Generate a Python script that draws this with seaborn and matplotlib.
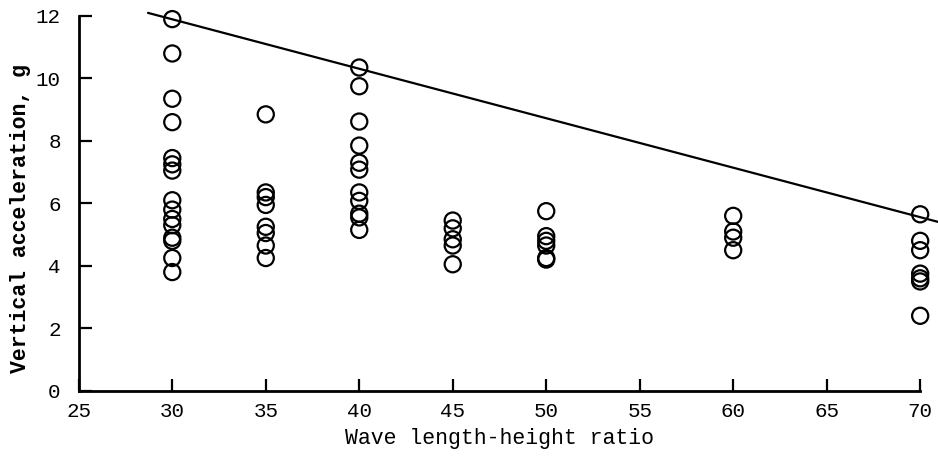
import matplotlib
matplotlib.use("Agg")
import matplotlib.pyplot as plt
import seaborn as sns
import pandas as pd

ratio_30 = [11.9, 10.8, 9.35, 8.6, 7.45, 7.25, 7.05, 6.1, 5.8, 5.5, 5.3, 4.9, 4.8, 4.25, 3.8]
ratio_35 = [8.85, 6.35, 6.2, 5.95, 5.25, 5.05, 4.65, 4.25]
ratio_40 = [10.35, 9.75, 8.62, 7.85, 7.3, 7.08, 6.35, 6.08, 5.67, 5.55, 5.15]
ratio_45 = [5.45, 5.2, 4.85, 4.65, 4.05]
ratio_50 = [5.75, 4.95, 4.8, 4.65, 4.25, 4.2]
ratio_60 = [5.6, 5.1, 4.9, 4.5]
ratio_70 = [5.65, 4.8, 4.5, 3.75, 3.6, 3.5, 2.4]

groups = {30: ratio_30, 35: ratio_35, 40: ratio_40, 45: ratio_45,
          50: ratio_50, 60: ratio_60, 70: ratio_70}

envelope_x = [28.7, 71.0]
envelope_y = [12.1, 5.4]

x_ticks = [25, 30, 35, 40, 45, 50, 55, 60, 65, 70]
y_ticks = [0, 2, 4, 6, 8, 10, 12]

rows = [(k, v) for k, vals in groups.items() for v in vals]
df = pd.DataFrame(rows, columns=["ratio", "accel"])

sns.set_theme(style="ticks")
plt.rcParams["font.family"] = ["Liberation Mono", "DejaVu Sans Mono"]
plt.rcParams["text.color"] = "black"
plt.rcParams["axes.labelcolor"] = "black"

fig = plt.figure(figsize=(9.38, 4.57), dpi=100)
ax = fig.add_axes([0.084, 0.145, 0.897, 0.82])

sns.lineplot(x=envelope_x, y=envelope_y, ax=ax, color="black", linewidth=1.6,
             clip_on=False)
sns.scatterplot(data=df, x="ratio", y="accel", ax=ax, marker="o", s=135,
                facecolor="none", edgecolor="black", linewidth=1.6,
                clip_on=False, zorder=3)

ax.set_xlim(25, 70)
ax.set_ylim(0, 12)
ax.set_xticks(x_ticks)
ax.set_yticks(y_ticks)
ax.set_xticklabels([str(t) for t in x_ticks])
ax.set_yticklabels([str(t) for t in y_ticks])

for s in ["top", "right"]:
    ax.spines[s].set_visible(False)
for s in ["left", "bottom"]:
    ax.spines[s].set_linewidth(2.0)
    ax.spines[s].set_color("black")

ax.tick_params(direction="in", length=9, width=1.6, colors="black",
               labelcolor="black", labelsize=15)
ax.tick_params(axis="x", pad=8)
ax.tick_params(axis="y", pad=13)

ax.set_xlabel("Wave length-height ratio", fontsize=15.5, labelpad=5,
              color="black")
ax.set_ylabel("Vertical acceleration, g", fontsize=15.5, fontweight="semibold",
              color="black")
ax.yaxis.set_label_coords(-0.057, 0.46)

fig.savefig("out.png", dpi=100)
